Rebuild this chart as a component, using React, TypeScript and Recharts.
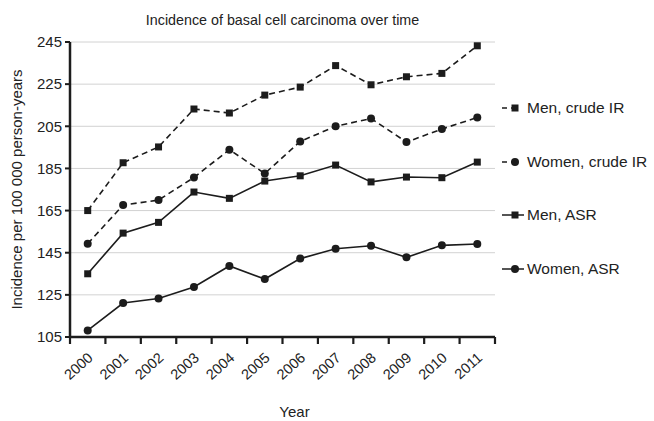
import React from 'react';
import { LineChart, Line, XAxis, YAxis, CartesianGrid, Legend, Label } from 'recharts';

// ---------------------------------------------------------------------------
// Data
// ---------------------------------------------------------------------------

const years = ['2000', '2001', '2002', '2003', '2004', '2005', '2006', '2007', '2008', '2009', '2010', '2011'];
const menCrude = [165, 187.7, 195.2, 213.2, 211.3, 219.8, 223.6, 233.8, 224.7, 228.5, 230.1, 243.2];
const womenCrude = [149.3, 167.6, 170, 180.7, 193.9, 182.6, 197.8, 205, 208.7, 197.5, 203.7, 209.2];
const menAsr = [135, 154.3, 159.4, 173.8, 170.8, 179, 181.5, 186.6, 178.6, 180.9, 180.6, 188];
const womenAsr = [108.1, 121.1, 123.3, 128.7, 138.7, 132.5, 142.2, 146.9, 148.3, 142.8, 148.5, 149.1];
const yTicks = [105, 125, 145, 165, 185, 205, 225, 245];

const data = years.map((year, i) => ({
  year,
  menCrude: menCrude[i],
  womenCrude: womenCrude[i],
  menAsr: menAsr[i],
  womenAsr: womenAsr[i],
}));

// ---------------------------------------------------------------------------
// Series styles
// ---------------------------------------------------------------------------

const INK = '#1c1c1c';
const FONT = '"Liberation Sans", Arial, Helvetica, sans-serif';

type Marker = 'square' | 'circle';

const series: { key: string; name: string; dashed: boolean; marker: Marker }[] = [
  { key: 'menCrude', name: 'Men, crude IR', dashed: true, marker: 'square' },
  { key: 'womenCrude', name: 'Women, crude IR', dashed: true, marker: 'circle' },
  { key: 'menAsr', name: 'Men, ASR', dashed: false, marker: 'square' },
  { key: 'womenAsr', name: 'Women, ASR', dashed: false, marker: 'circle' },
];

function markerShape(marker: Marker, cx: number, cy: number, key?: string) {
  if (marker === 'square') {
    return <rect key={key} x={cx - 3.5} y={cy - 3.5} width={7} height={7} fill={INK} />;
  }
  return <circle key={key} cx={cx} cy={cy} r={4} fill={INK} />;
}

// Year label, plus tick marks on the band edges (left edge, and right edge for the last one)
const YearTick = (props: any) => {
  const { x, y, payload, index, visibleTicksCount } = props;
  const half = payload.offset ?? 0;
  const tx = x + 6;
  const ty = y + 22;
  return (
    <g>
      <line x1={x - half} y1={y} x2={x - half} y2={y + 7} stroke={INK} strokeWidth={2.2} />
      {index === visibleTicksCount - 1 && (
        <line x1={x + half} y1={y} x2={x + half} y2={y + 7} stroke={INK} strokeWidth={2.2} />
      )}
      <text
        x={tx}
        y={ty}
        transform={`rotate(-42, ${tx}, ${ty})`}
        textAnchor="end"
        fontSize={14.5}
        fontFamily={FONT}
        fill="#222"
      >
        {payload.value}
      </text>
    </g>
  );
};

const LegendContent = () => (
  <div style={{ fontFamily: FONT, fontSize: 15.5, color: '#222' }}>
    {series.map((s) => (
      <div key={s.key} style={{ height: 53.7, display: 'flex', alignItems: 'center' }}>
        <svg width={25} height={12} style={{ display: 'block' }}>
          <line
            x1={0}
            y1={6}
            x2={s.dashed ? 14 : 22}
            y2={6}
            stroke={INK}
            strokeWidth={1.5}
            strokeDasharray={s.dashed ? '5 4' : undefined}
          />
          {markerShape(s.marker, 13, 6)}
        </svg>
        <span style={{ whiteSpace: 'nowrap' }}>{s.name}</span>
      </div>
    ))}
  </div>
);

export default function App() {
  return (
    <div style={{ width: 654, height: 421, position: 'relative', background: '#fff' }}>
      <style>{'body{margin:0}'}</style>
      <div
        style={{
          position: 'absolute',
          top: 12,
          left: 70,
          width: 425,
          textAlign: 'center',
          fontFamily: FONT,
          fontSize: 14.3,
          color: '#222',
        }}
      >
        Incidence of basal cell carcinoma over time
      </div>
      <LineChart
        width={654}
        height={421}
        data={data}
        margin={{ top: 42, right: 159, left: 0, bottom: 0 }}
      >
        <CartesianGrid vertical={false} stroke="#d2d2d2" />
        <XAxis
          dataKey="year"
          scale="band"
          tickLine={false}
          tickSize={0}
          tickMargin={0}
          tick={<YearTick />}
          interval={0}
          height={84}
          axisLine={{ stroke: INK, strokeWidth: 2.5 }}
        >
          <Label
            value="Year"
            position="insideBottom"
            offset={4}
            dx={12}
            style={{ fontFamily: FONT, fontSize: 15, fill: '#222' }}
          />
        </XAxis>
        <YAxis
          width={70}
          domain={[105, 245]}
          ticks={yTicks}
          interval={0}
          tickSize={5}
          tickMargin={3}
          tick={{ fontSize: 15, fill: '#222', fontFamily: FONT }}
          tickLine={{ stroke: INK, strokeWidth: 2 }}
          axisLine={{ stroke: INK, strokeWidth: 2.5 }}
        >
          <Label
            value="Incidence per 100 000 person-years"
            angle={-90}
            position="insideLeft"
            offset={17}
            style={{ textAnchor: 'middle', fontFamily: FONT, fontSize: 15, fill: '#222' }}
          />
        </YAxis>
        <Legend
          layout="horizontal"
          verticalAlign="middle"
          align="center"
          content={<LegendContent />}
          wrapperStyle={{ left: 502, top: 81, width: 152, height: 220 }}
        />
        {series.map((s) => (
          <Line
            key={s.key}
            type="linear"
            dataKey={s.key}
            name={s.name}
            stroke={INK}
            strokeWidth={1.6}
            strokeDasharray={s.dashed ? '6 4' : undefined}
            dot={(p: any) => markerShape(s.marker, p.cx, p.cy, `${s.key}-${p.index}`)}
            activeDot={false}
            isAnimationActive={false}
          />
        ))}
      </LineChart>
    </div>
  );
}
